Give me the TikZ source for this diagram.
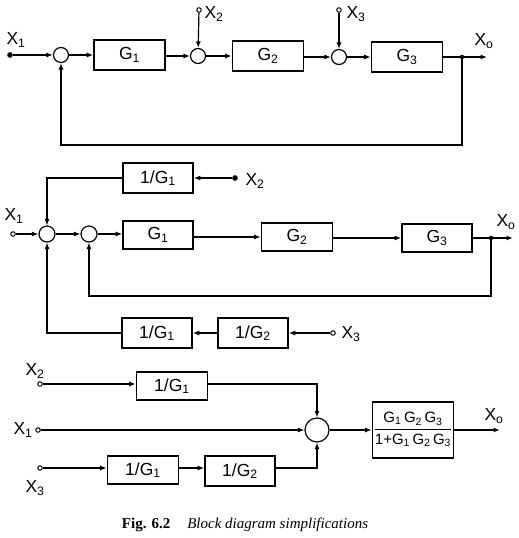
\documentclass[tikz,border=0pt]{standalone}
\usepackage{fontspec}
\setmainfont{Liberation Sans}
\newfontfamily\capfont{Liberation Serif}
\usetikzlibrary{arrows.meta}

\tikzset{
  blk/.style={draw, line width=1.6pt, minimum width=71pt, minimum height=30pt, inner sep=0pt},
  sumc/.style={circle, draw, line width=1.2pt, minimum size=15pt, inner sep=0pt},
  term/.style={circle, draw, line width=1pt, minimum size=4.5pt, inner sep=0pt, fill=white},
  termf/.style={term, fill=black},
  jdot/.style={circle, fill=black, minimum size=4.5pt, inner sep=0pt},
  sig/.style={line width=1.2pt, -{Latex[length=6.5pt,width=5pt]}},
  lab/.style={inner sep=0pt}
}
\newcommand{\sig}[2]{#1\textsubscript{#2}}

\begin{document}
\begin{tikzpicture}[x=1pt, y=-1pt, font=\fontsize{17.5}{20}\selectfont]
  \useasboundingbox (0,0) rectangle (519,538);

  % upper diagram
  \node[termf] (ta) at (10,55) {};
  \node[lab] at (16,40) {\sig{X}{1}};
  \node[sumc] (ts1) at (61,55) {};
  \node[blk] (tg1) at (129.5,55) {\sig{G}{1}};
  \node[sumc] (ts2) at (198,56) {};
  \node[term] (tb) at (199,10) {};
  \node[lab] at (214,14) {\sig{X}{2}};
  \node[blk] (tg2) at (268,56) {\sig{G}{2}};
  \node[sumc] (ts3) at (339,57) {};
  \node[term] (tc) at (339,10) {};
  \node[lab] at (356,14) {\sig{X}{3}};
  \node[blk] (tg3) at (407,57) {\sig{G}{3}};
  \node[jdot] (tj) at (462,57) {};
  \coordinate (to) at (487,57);
  \node[lab] at (484,41) {\sig{X}{o}};

  \draw[sig] (ta) -- (ts1);
  \draw[sig] (ts1) -- (tg1);
  \draw[sig] (tg1.east |- ts2) -- (ts2);
  \draw[sig] (tb) -- (ts2);
  \draw[sig] (ts2) -- (tg2.west |- ts2);
  \draw[sig] (tg2.east |- ts3) -- (ts3);
  \draw[sig] (tc) -- (ts3);
  \draw[sig] (ts3) -- (tg3);
  \draw[sig] (tg3) -- (to);
  \draw[sig] (tj) |- (61,145) -- (ts1);

  % middle diagram
  \node[term] (ma) at (13,234) {};
  \node[lab] at (14,216) {\sig{X}{1}};
  \node[sumc, minimum size=16pt] (msa) at (47,234) {};
  \node[sumc, minimum size=16pt] (msb) at (89,234) {};
  \node[blk, minimum width=70pt, minimum height=28pt] (mg1) at (158,235) {\sig{G}{1}};
  \node[blk, minimum width=71pt, minimum height=28pt] (mg2) at (297,237) {\sig{G}{2}};
  \node[blk, minimum width=70pt, minimum height=28pt] (mg3) at (437,238) {\sig{G}{3}};
  \node[jdot] (mj) at (491,238) {};
  \coordinate (mo) at (513,238);
  \node[lab] at (506,222) {\sig{X}{o}};
  \node[blk, minimum width=70pt] (mh1) at (158,178) {1/\sig{G}{1}};
  \node[termf] (mb) at (235,178) {};
  \node[lab] at (255,181) {\sig{X}{2}};
  \node[blk, minimum width=70pt] (mk1) at (157,333) {1/\sig{G}{1}};
  \node[blk, minimum width=70pt] (mk2) at (253,333) {1/\sig{G}{2}};
  \node[term] (mc) at (333,333) {};
  \node[lab] at (351,334) {\sig{X}{3}};

  \draw[sig] (ma) -- (msa);
  \draw[sig] (msa) -- (msb);
  \draw[sig] (msb) -- (mg1.west |- msb);
  \draw[sig] (mg1.east |- mg2) -- (mg2);
  \draw[sig] (mg2.east |- mg3) -- (mg3);
  \draw[sig] (mg3) -- (mo);
  \draw[sig] (mj) |- (89,296) -- (msb);
  \draw[sig] (mb) -- (mh1);
  \draw[sig] (mh1) -| (msa);
  \draw[sig] (mc) -- (mk2);
  \draw[sig] (mk2) -- (mk1);
  \draw[sig] (mk1) -| (msa);

  % lower diagram
  \node[term] (bb) at (40,384) {};
  \node[lab] at (35,371) {\sig{X}{2}};
  \node[blk, minimum height=28pt] (bh1) at (172,386) {1/\sig{G}{1}};
  \node[sumc, minimum size=24pt] (bs) at (317,430) {};
  \node[term] (ba) at (38,430) {};
  \node[lab] at (23,430) {\sig{X}{1}};
  \node[term] (bc) at (40,468) {};
  \node[lab] at (35,488) {\sig{X}{3}};
  \node[blk, minimum height=28pt] (bk1) at (143,470) {1/\sig{G}{1}};
  \node[blk, minimum width=70pt] (bk2) at (240,471) {1/\sig{G}{2}};
  \node[blk, minimum width=81pt, minimum height=56pt, font=\fontsize{15}{17}\selectfont] (bf) at (413,430)
    {\begin{tabular}{@{}c@{}}\sig{G}{1}\,\sig{G}{2}\,\sig{G}{3}\\[1pt]\hline
     \rule{0pt}{15pt}1+\sig{G}{1}\,\sig{G}{2}\,\sig{G}{3}\end{tabular}};
  \coordinate (bo) at (500,430);
  \node[lab] at (494,416) {\sig{X}{o}};

  \draw[sig] (bb) -- (bh1.west |- bb);
  \draw[sig] (bh1.east |- bb) -| (bs);
  \draw[sig] (ba) -- (bs);
  \draw[sig] (bc) -- (bk1.west |- bc);
  \draw[sig] (bk1.east |- bc) -- (bk2.west |- bc);
  \draw[sig] (bk2.east |- bc) -| (bs);
  \draw[sig] (bs) -- (bf);
  \draw[sig] (bf) -- (bo);

  % caption
  \node[lab, font=\capfont\fontsize{15}{17}\selectfont] (cap) at (245,525)
    {\textbf{Fig. 6.2}\hspace{17pt}\textit{Block diagram simplifications}};
\end{tikzpicture}
\end{document}
